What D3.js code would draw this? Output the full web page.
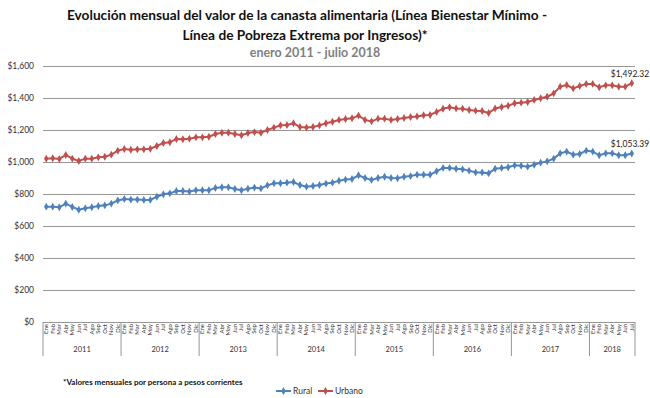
<!DOCTYPE html>
<html>
<head>
<meta charset="utf-8">
<script src="https://cdn.jsdelivr.net/npm/d3@7"></script>
<style>
	body { margin: 0; background: #fff; }
	svg { display: block; font-family: Lato, 'Open Sans', sans-serif; }
</style>
</head>
<body>
<div class="chart-area"></div>
<script>
var years = ['2011', '2012', '2013', '2014', '2015', '2016', '2017', '2018'];
var monthNames = ['Ene', 'Feb', 'Mar', 'Abr', 'May', 'Jun', 'Jul', 'Ago', 'Sep', 'Oct', 'Nov', 'Dic'];
var yTicks = [0, 200, 400, 600, 800, 1000, 1200, 1400, 1600];

// monthly values, enero 2011 - julio 2018
var rural = [
	721, 721, 717, 740, 719, 702, 711, 717, 725, 729, 740, 760,
	769, 765, 765, 763, 763, 783, 798, 804, 819, 819, 815, 823,
	823, 823, 838, 842, 842, 831, 823, 833, 840, 835, 854, 867,
	867, 871, 875, 856, 846, 850, 856, 865, 871, 883, 890, 894,
	917, 900, 888, 900, 908, 900, 898, 908, 912, 921, 921, 921,
	942, 963, 963, 958, 954, 946, 935, 935, 929, 958, 963, 967,
	979, 977, 971, 983, 996, 1004, 1021, 1054, 1065, 1046, 1050, 1071,
	1065, 1042, 1054, 1054, 1042, 1042, 1053.39
];
var urbano = [
	1021, 1023, 1019, 1044, 1021, 1006, 1021, 1021, 1029, 1033, 1046, 1071,
	1081, 1077, 1079, 1079, 1083, 1100, 1119, 1123, 1144, 1142, 1146, 1154,
	1154, 1158, 1175, 1183, 1183, 1175, 1167, 1181, 1187, 1183, 1200, 1215,
	1229, 1231, 1242, 1219, 1215, 1219, 1229, 1242, 1252, 1263, 1269, 1273,
	1290, 1263, 1254, 1271, 1271, 1263, 1269, 1275, 1281, 1285, 1292, 1294,
	1313, 1333, 1342, 1335, 1333, 1325, 1321, 1319, 1306, 1335, 1344, 1352,
	1367, 1371, 1375, 1388, 1398, 1408, 1429, 1471, 1481, 1460, 1475, 1488,
	1488, 1467, 1479, 1479, 1471, 1471, 1492.32
];
var seriesNames = ['Rural', 'Urbano'];
var seriesColors = ['#4f81bd', '#c0504d'];

var width = 650;
var height = 398;
// plot box (window.top is reserved, so no bare "top")
var plotLeft = 43, plotRight = 635, plotTop = 66, plotBottom = 322;

// one category per month
var months = [];
rural.forEach(function(v, i) {
	months.push({ year: years[Math.floor(i / 12)], month: monthNames[i % 12], key: i });
});

var svg = d3.select('.chart-area').append('svg')
	.attr('width', width)
	.attr('height', height);

var x = d3.scaleBand()
	.domain(months.map(function(d) { return d.key; }))
	.range([plotLeft, plotRight]);
var y = d3.scaleLinear()
	.domain([0, 1600])
	.range([plotBottom, plotTop]);
function cx(i) { return x(i) + x.bandwidth() / 2; }

// titles
var title = svg.append('g')
	.attr('text-anchor', 'middle')
	.attr('font-weight', 'bold');
title.append('text')
	.attr('x', 307).attr('y', 20)
	.attr('font-size', 13.7).attr('fill', '#111')
	.text('Evolución mensual del valor de la canasta alimentaria (Línea Bienestar Mínimo -');
title.append('text')
	.attr('x', 305).attr('y', 40)
	.attr('font-size', 13.7).attr('fill', '#111')
	.text('Línea de Pobreza Extrema por Ingresos)*');
title.append('text')
	.attr('x', 315).attr('y', 57)
	.attr('font-size', 12.5).attr('fill', '#7f7f7f')
	.text('enero 2011 - julio 2018');

// gridlines + y labels
var yAxis = svg.append('g')
	.attr('class', 'y-axis')
	.attr('transform', 'translate(' + plotLeft + ',0)')
	.call(d3.axisLeft(y).tickValues(yTicks)
		.tickSize(-(plotRight - plotLeft))
		.tickPadding(9)
		.tickFormat(function(d) { return '$' + d3.format(',')(d); }));
yAxis.select('.domain').remove();
yAxis.selectAll('line').attr('stroke', '#969696').attr('stroke-width', 1);
yAxis.selectAll('text')
	.attr('font-family', 'Lato, sans-serif')
	.attr('font-size', 8.5)
	.attr('fill', '#333');

// x axis: months rotated, years below, dividers
var xAxis = svg.append('g').attr('class', 'x-axis');
xAxis.selectAll('.month')
	.data(months)
	.enter().append('text')
	.attr('class', 'month')
	.attr('transform', function(d) { return 'translate(' + (cx(d.key) + 2) + ',' + (plotBottom + 2) + ') rotate(-90)'; })
	.attr('text-anchor', 'end')
	.attr('font-size', 6)
	.attr('fill', '#333')
	.text(function(d) { return d.month; });

var yearGroups = years.map(function(yr) {
	var ks = months.filter(function(d) { return d.year === yr; }).map(function(d) { return d.key; });
	return { year: yr, first: ks[0], last: ks[ks.length - 1] };
});
xAxis.selectAll('.divider')
	.data(yearGroups)
	.enter().append('line')
	.attr('x1', function(d) { return x(d.first); })
	.attr('x2', function(d) { return x(d.first); })
	.attr('y1', plotBottom).attr('y2', plotBottom + 34)
	.attr('stroke', '#969696');
xAxis.append('line')
	.attr('x1', plotRight).attr('x2', plotRight)
	.attr('y1', plotBottom).attr('y2', plotBottom + 34)
	.attr('stroke', '#969696');
xAxis.selectAll('.year')
	.data(yearGroups)
	.enter().append('text')
	.attr('x', function(d) { return (x(d.first) + x(d.last) + x.bandwidth()) / 2; })
	.attr('y', plotBottom + 30)
	.attr('text-anchor', 'middle')
	.attr('font-size', 7.5)
	.attr('fill', '#333')
	.text(function(d) { return d.year; });

// series lines with diamond markers
var line = d3.line()
	.x(function(d, i) { return cx(i); })
	.y(function(d) { return y(d); });
var diamond = d3.symbol().type(d3.symbolDiamond).size(18);

[rural, urbano].forEach(function(values, s) {
	var g = svg.append('g').attr('class', 'series series-' + s);
	g.append('path')
		.datum(values)
		.attr('fill', 'none')
		.attr('stroke', seriesColors[s])
		.attr('stroke-width', 2)
		.attr('d', line);
	g.selectAll('.pt')
		.data(values)
		.enter().append('path')
		.attr('transform', function(d, i) { return 'translate(' + cx(i) + ',' + y(d) + ')'; })
		.attr('d', diamond)
		.attr('fill', seriesColors[s]);
	// last value label
	var lastI = values.length - 1;
	g.append('text')
		.attr('x', cx(lastI) - 21)
		.attr('y', y(values[lastI]) - 6)
		.attr('font-size', 8.5)
		.attr('fill', '#222')
		.text('$' + d3.format(',.2f')(values[lastI]));
});

// footnote
svg.append('text')
	.attr('x', 63).attr('y', 385)
	.attr('font-size', 8).attr('font-weight', 'bold')
	.attr('fill', '#111')
	.text('*Valores mensuales por persona a pesos corrientes');

// legend
var legendX = [276, 318];
var legend = svg.append('g').attr('class', 'legend');
seriesNames.forEach(function(name, s) {
	var lg = legend.append('g').attr('transform', 'translate(' + legendX[s] + ',391)');
	lg.append('line')
		.attr('x1', 0).attr('x2', 15)
		.attr('stroke', seriesColors[s]).attr('stroke-width', 2);
	lg.append('path')
		.attr('transform', 'translate(7.5,0)')
		.attr('d', diamond)
		.attr('fill', seriesColors[s]);
	lg.append('text')
		.attr('x', 17).attr('y', 3)
		.attr('font-size', 8.5).attr('fill', '#333')
		.text(name);
});
</script>
</body>
</html>
